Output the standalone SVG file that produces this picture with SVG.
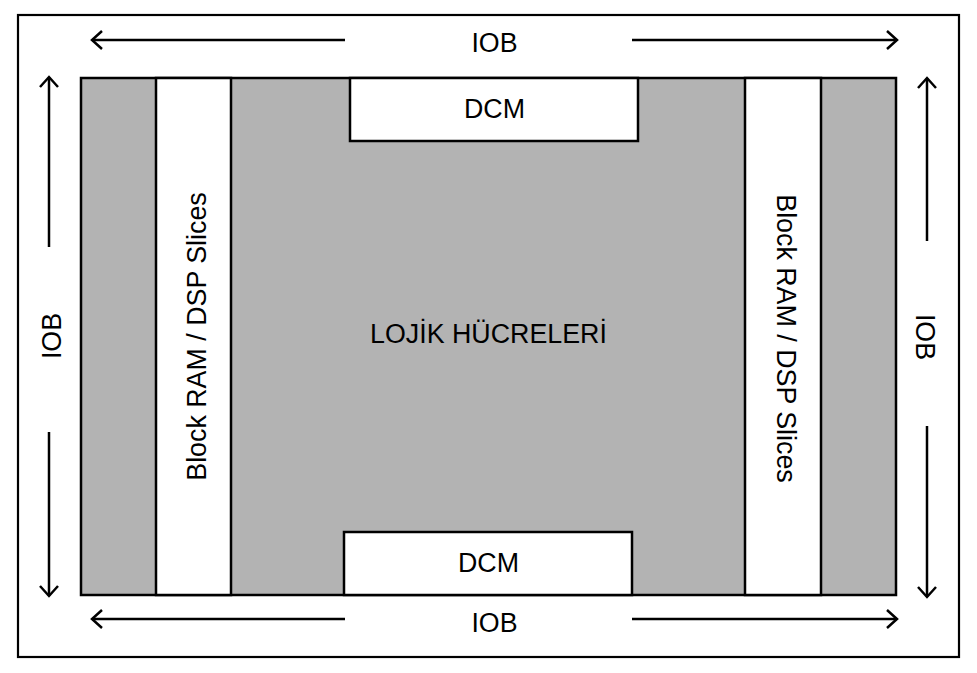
<svg xmlns="http://www.w3.org/2000/svg" width="977" height="673" viewBox="0 0 977 673">
<style>
.box{stroke:#000;stroke-width:2.5}
.gray{fill:#b3b3b3}
.white{fill:#fff}
.lbl{font-family:"Liberation Sans",Arial,sans-serif;font-size:26.8px;fill:#000;text-anchor:middle}
.arr{stroke:#000;stroke-width:2.5;fill:none;marker-end:url(#ah)}
</style>
<defs>
<marker id="ah" markerUnits="userSpaceOnUse" markerWidth="24" markerHeight="24" viewBox="-12 -12 24 24" refX="0" refY="0" orient="auto">
<path d="M-10,-9 L0,0 L-10,9" fill="none" stroke="#000" stroke-width="2.5"/>
</marker>
</defs>
<rect x="0" y="0" width="977" height="673" fill="#fff"/>
<g id="frame"><rect x="18" y="15" width="941" height="642" fill="#fff" stroke="#000" stroke-width="2.2"/></g>
<g id="logic">
<rect class="box gray" x="81" y="78" width="815" height="517"/>
<text class="lbl" x="488.5" y="343">LOJİK HÜCRELERİ</text>
</g>
<g id="bram-left">
<rect class="box white" x="156" y="78" width="75" height="517"/>
<text class="lbl" transform="translate(205.5,336.5) rotate(-90)">Block RAM / DSP Slices</text>
</g>
<g id="bram-right">
<rect class="box white" x="745" y="78" width="76" height="517"/>
<text class="lbl" transform="translate(776.5,338.5) rotate(90)">Block RAM / DSP Slices</text>
</g>
<g id="dcm-top">
<rect class="box white" x="350" y="78" width="288" height="63"/>
<text class="lbl" x="494.5" y="117.5">DCM</text>
</g>
<g id="dcm-bottom">
<rect class="box white" x="344" y="532" width="288" height="63"/>
<text class="lbl" x="488.5" y="571.5">DCM</text>
</g>
<g id="iob-top"><text class="lbl" x="494.5" y="52">IOB</text></g>
<g id="iob-bottom"><text class="lbl" x="494.5" y="632">IOB</text></g>
<g id="iob-left"><text class="lbl" transform="translate(61,336) rotate(-90)">IOB</text></g>
<g id="iob-right"><text class="lbl" transform="translate(916,337) rotate(90)">IOB</text></g>
<g id="connectors">
<line class="arr" x1="345" y1="40" x2="92" y2="40"/>
<line class="arr" x1="632" y1="40" x2="897" y2="40"/>
<line class="arr" x1="345" y1="619" x2="92" y2="619"/>
<line class="arr" x1="632" y1="619" x2="897" y2="619"/>
<line class="arr" x1="49" y1="247" x2="49" y2="77"/>
<line class="arr" x1="49" y1="432" x2="49" y2="596"/>
<line class="arr" x1="927" y1="241" x2="927" y2="78"/>
<line class="arr" x1="927" y1="426" x2="927" y2="597"/>
</g>
</svg>
